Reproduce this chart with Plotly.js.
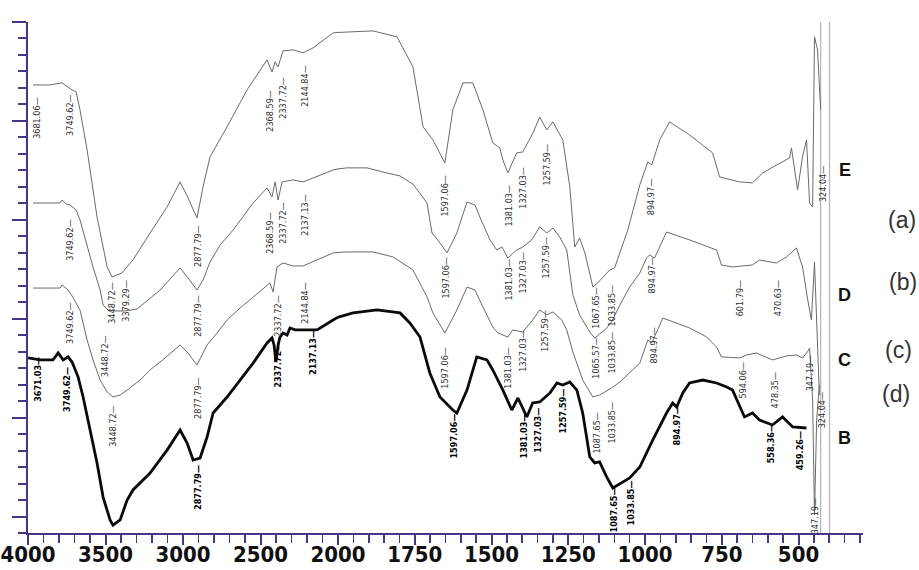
<!DOCTYPE html>
<html>
<head>
<meta charset="utf-8">
<script src="https://cdn.plot.ly/plotly-3.0.1.min.js"></script>
<style>html,body{margin:0;padding:0;background:#fff;}#chart{width:919px;height:570px;}</style>
</head>
<body>
<div id="chart"></div>
<script>
// ---- Spectrum E (top, thin) ----
const eWn = [3968,3858,3781,3755,3716,3690,3665,3619,3555,3490,3458,3394,3323,3213,3103,3019,2968,2910,2871,2826,2716,2587,2458,2426,2406,2387,2355,2290,2226,2161,2032,1971,1886,1808,1756,1723,1691,1652,1626,1593,1561,1528,1496,1473,1463,1447,1418,1398,1365,1343,1320,1300,1268,1245,1229,1213,1196,1170,1154,1115,1099,1056,1017,991,978,952,920,855,780,757,692,650,617,571,529,523,503,487,474,464,454,448,438,428];
const eT = [27.18,27.18,27.31,27.12,26.88,26.76,25.67,23.24,19.17,16.14,15.53,15.78,16.57,18.20,19.78,21.30,20.33,19.11,21.00,22.82,24.64,26.88,28.70,27.97,28.58,28.28,29.25,29.31,29.13,29.43,30.34,30.40,30.46,30.10,28.28,24.64,23.85,22.45,25.67,27.31,27.31,25.67,23.67,23.36,22.63,21.84,23.06,23.12,24.27,25.24,24.45,24.94,23.85,21.00,17.35,17.90,16.99,14.93,15.17,15.96,16.08,18.39,21.12,22.51,22.33,23.85,24.94,24.15,23.06,21.60,21.30,21.24,21.84,22.33,22.76,23.36,20.81,22.82,23.85,20.02,19.78,30.10,29.31,25.67];

// ---- Spectrum D ----
const dWn = [3968,3794,3781,3755,3729,3690,3665,3619,3581,3535,3516,3484,3439,3374,3297,3148,3019,2968,2910,2871,2826,2761,2677,2548,2458,2426,2406,2387,2361,2290,2226,2161,2032,1971,1906,1854,1798,1756,1710,1694,1675,1645,1613,1580,1554,1538,1505,1483,1466,1447,1418,1398,1369,1343,1320,1300,1278,1255,1235,1213,1180,1164,1131,1109,1082,1050,1017,995,985,969,930,855,767,751,715,650,627,572,539,507,487,471,458,448,441,432];
const dT = [20.02,20.02,20.20,19.96,19.90,19.60,18.99,17.35,16.14,14.74,13.83,13.53,13.47,13.47,13.59,14.74,16.08,15.47,14.74,15.35,16.44,17.47,18.38,20.02,20.93,20.39,21.30,20.20,21.30,21.42,21.30,21.54,22.02,22.15,22.15,21.90,21.66,21.17,20.02,18.20,17.78,16.99,18.20,20.08,19.90,19.17,17.78,17.17,17.35,16.68,17.17,17.35,17.78,18.57,18.20,18.50,17.96,17.17,14.44,13.23,12.19,11.83,12.32,12.80,13.83,14.92,15.77,16.68,16.87,16.68,18.26,17.78,17.17,16.26,16.14,16.26,16.56,16.38,16.75,17.29,16.14,14.26,12.92,16.44,12.32,8.37];

// ---- Spectrum C ----
const cWn = [3968,3794,3781,3742,3716,3665,3619,3581,3535,3490,3452,3406,3361,3277,3213,3116,3019,2968,2910,2845,2781,2716,2632,2548,2490,2439,2419,2394,2355,2290,2226,2135,2032,1971,1886,1821,1756,1710,1691,1652,1613,1580,1554,1528,1496,1479,1447,1431,1398,1366,1343,1320,1300,1271,1255,1235,1203,1170,1148,1109,1082,1017,991,978,942,855,799,767,751,692,669,637,585,539,507,487,471,464,454,448,441,432];
const cT = [14.86,14.86,15.05,14.74,14.38,13.53,11.71,10.50,9.28,8.55,8.25,8.37,8.67,9.28,9.89,10.62,11.41,10.92,10.19,11.41,12.13,12.92,13.65,14.32,14.74,15.17,14.62,16.14,16.38,16.20,16.20,16.56,16.99,17.05,17.05,16.75,15.96,14.32,13.35,12.13,13.53,14.92,14.74,13.71,12.50,12.13,11.89,12.32,12.19,12.92,13.53,13.23,13.41,12.92,12.32,10.98,9.28,8.25,8.37,8.80,9.16,10.31,11.71,11.53,13.04,12.44,11.89,11.28,10.68,10.62,10.80,10.92,10.50,10.74,10.80,10.62,10.98,11.22,8.07,1.09,6.85,8.98];

// ---- Spectrum B (bold) ----
const bWn = [4000,3923,3839,3806,3774,3742,3716,3677,3645,3600,3555,3516,3471,3452,3406,3361,3323,3213,3103,3019,2974,2935,2890,2845,2806,2716,2632,2548,2458,2426,2413,2400,2387,2374,2355,2329,2310,2277,2200,2135,2032,1951,1873,1798,1766,1733,1701,1668,1626,1613,1580,1548,1515,1496,1463,1434,1414,1385,1366,1343,1310,1287,1268,1245,1222,1203,1180,1164,1148,1125,1105,1076,1050,1017,975,930,910,897,877,855,812,767,734,715,692,676,650,627,585,552,519,474];
const bT = [10.62,10.50,10.50,10.92,10.50,10.68,10.37,9.46,8.25,6.25,4.25,2.18,0.79,0.48,0.79,2.00,2.61,3.64,5.03,6.25,5.46,4.43,4.55,5.82,7.28,8.25,9.28,10.31,11.53,11.83,11.41,10.37,11.41,11.89,12.13,12.01,12.44,12.32,12.32,12.32,12.92,13.35,13.53,13.35,12.74,11.89,9.71,8.25,7.46,7.28,8.67,10.68,10.50,9.89,8.67,7.46,8.19,7.04,7.89,7.95,8.49,9.10,8.98,9.16,8.67,7.28,4.61,4.25,4.31,3.40,2.73,3.03,3.34,4.00,5.64,7.28,7.89,7.64,8.49,9.10,9.28,9.10,8.86,8.67,7.64,7.04,7.28,6.85,6.55,7.04,6.43,6.37];

// ---- instrument edge lines at the right ----
const edgeX = [428, 428, null, 399, 399];
const edgeY = [31, 0, null, 31, 0];

// ---- peak labels (text, position on the wavenumber axis, top of the label) ----
const eLabels = ["3681.06","3749.62","3448.72","3379.29","2877.79","2368.59","2337.72","2144.84","1597.06","1381.03","1327.03","1257.59","1067.65","1033.85","894.97","324.04"];
const eLabelX = [3942,3729,3458,3368,2903,2439,2355,2213,1652,1444,1398,1320,1160,1109,982,422];
const eLabelY = [26.27,26.45,15.05,15.17,18.50,26.70,27.49,28.21,21.54,20.93,22.02,23.42,14.74,14.86,21.30,22.15];

const dLabels = ["3749.62","3448.72","2877.79","2368.59","2337.72","2137.13","1597.06","1381.03","1327.03","1257.59","1065.57","1033.85","894.97","601.79","470.63","324.04"];
const dLabelX = [3729,3503,2903,2439,2355,2213,1649,1444,1398,1323,1160,1109,978,692,568,425];
const dLabelY = [18.87,11.83,14.26,19.29,19.90,20.39,16.56,16.44,16.87,17.78,11.71,12.01,16.56,15.17,15.17,8.37];

const cLabels = ["3749.62","3448.72","2877.79","2337.72","2144.84","1597.06","1381.03","1327.03","1257.59","1087.65","1033.85","894.97","594.06","478.35","347.19","347.19"];
const cLabelX = [3729,3452,2903,2387,2213,1652,1447,1398,1326,1157,1109,971,682,578,464,448];
const cLabelY = [13.83,7.58,9.28,14.26,15.05,11.10,11.10,12.13,13.35,7.16,7.76,12.32,10.19,9.58,10.62,2.00];

const bLabels = ["3671.03","3749.62","2877.79","2337.72","2137.13","1597.06","1381.03","1327.03","1257.59","1087.65","1033.85","894.97","558.36","459.26"];
const bLabelX = [3936,3748,2903,2387,2161,1623,1395,1349,1268,1102,1047,897,591,497];
const bLabelY = [10.37,9.77,3.82,11.23,12.01,6.98,6.98,7.34,8.49,2.49,2.91,7.46,6.37,5.94];

// ---- series names and panel letters ----
const seriesNames = ["E","D","C","B"];
const seriesNameY = [22.02,14.44,10.50,5.76];
const seriesNameX = 350;
const panelLetters = ["(a)","(b)","(c)","(d)"];
const panelX = [1.047,1.048,1.042,1.040];
const panelY = [0.613,0.491,0.358,0.272];

// ---- x tick values ----
const upperTicks = [4000,3500,3000,2500,2000];
const lowerTicks = [1750,1500,1250,1000,750,500];

const AX = '#4a3487';
const THIN = '#6a6a6a';

function twoPart(wn, t, style) {
  return [
    Object.assign({x: wn, y: t, xaxis: 'x', yaxis: 'y', mode: 'lines', hoverinfo: 'skip', showlegend: false}, style),
    Object.assign({x: wn, y: t, xaxis: 'x2', yaxis: 'y', mode: 'lines', hoverinfo: 'skip', showlegend: false}, style)
  ];
}

const thinLine = {line: {color: THIN, width: 1}};
const traces = [].concat(
  twoPart(edgeX, edgeY, {line: {color: '#b4b4b4', width: 1.2}, connectgaps: false}),
  twoPart(eWn, eT, thinLine),
  twoPart(dWn, dT, thinLine),
  twoPart(cWn, cT, thinLine),
  twoPart(bWn, bT, {line: {color: '#0a0a0a', width: 2.8}})
);

const annotations = [];
function addLabels(texts, xs, ys, bold) {
  texts.forEach((txt, i) => {
    const s = txt + '\u2014';
    const len = (txt.length - 1) * 4.1 + 2 + 9;
    annotations.push({
      x: xs[i], y: ys[i], xref: xs[i] >= 2000 ? 'x' : 'x2', yref: 'y',
      text: s, showarrow: false, textangle: -90,
      xanchor: 'center', yanchor: 'middle', yshift: -len / 2,
      font: {family: 'Liberation Sans Narrow, DejaVu Sans Condensed, Arial Narrow, sans-serif', size: 9,
             color: bold ? '#000' : '#2e2e2e', weight: bold ? 'bold' : 'normal'}
    });
  });
}
addLabels(eLabels, eLabelX, eLabelY, false);
addLabels(dLabels, dLabelX, dLabelY, false);
addLabels(cLabels, cLabelX, cLabelY, false);
addLabels(bLabels, bLabelX, bLabelY, true);

seriesNames.forEach((n, i) => {
  annotations.push({x: seriesNameX, y: seriesNameY[i], xref: 'x2', yref: 'y', text: n, showarrow: false,
    xanchor: 'center', yanchor: 'middle',
    font: {family: 'Liberation Sans, Arial, sans-serif', size: 18, color: '#111', weight: 'bold'}});
});
panelLetters.forEach((n, i) => {
  annotations.push({x: panelX[i], y: panelY[i], xref: 'paper', yref: 'paper', text: n, showarrow: false,
    xanchor: 'center', yanchor: 'middle',
    font: {family: 'Liberation Sans, Arial, sans-serif', size: 23, color: '#333'}});
});

const tickFont = {family: 'Liberation Sans Narrow, Arial Narrow, DejaVu Sans Condensed, sans-serif', size: 22, color: '#111', weight: 'bold'};
const commonX = {
  anchor: 'y', showline: true, linecolor: AX, linewidth: 2, ticks: 'outside', ticklen: 10, tickwidth: 2,
  tickcolor: AX, showgrid: false, zeroline: false, tickfont: tickFont, fixedrange: true, tickmode: 'array',
  ticklabelstandoff: -9
};

const layout = {
  width: 919, height: 570,
  margin: {l: 28, r: 56, t: 22, b: 37, pad: 0},
  paper_bgcolor: '#ffffff', plot_bgcolor: '#ffffff',
  showlegend: false, hovermode: false,
  xaxis: Object.assign({}, commonX, {
    domain: [0, 0.3713], range: [4000.5, 2000],
    tickvals: upperTicks, ticktext: upperTicks.map(String),
    minor: {tickmode: 'linear', tick0: 0, dtick: 100, ticks: 'outside', ticklen: 8, tickwidth: 1.6, tickcolor: AX}
  }),
  xaxis2: Object.assign({}, commonX, {
    domain: [0.3713, 1], range: [1999.99, 290],
    tickvals: lowerTicks, ticktext: lowerTicks.map(String),
    minor: {tickmode: 'linear', tick0: 0, dtick: 50, ticks: 'outside', ticklen: 8, tickwidth: 1.6, tickcolor: AX}
  }),
  yaxis: {
    anchor: 'x', range: [0, 31], showline: true, linecolor: AX, linewidth: 2.5,
    ticks: 'outside', tick0: 1, dtick: 6, ticklen: 14, tickwidth: 2, tickcolor: AX,
    minor: {tick0: 0, dtick: 1, ticks: 'outside', ticklen: 8, tickwidth: 2, tickcolor: AX},
    showticklabels: false, showgrid: false, zeroline: false, fixedrange: true
  },
  annotations: annotations
};

Plotly.newPlot('chart', traces, layout, {staticPlot: true, displayModeBar: false});
</script>
</body>
</html>
